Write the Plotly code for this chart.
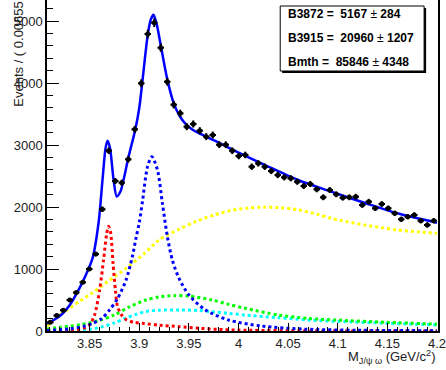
import numpy as np
import plotly.graph_objects as go

# ---------------- data ----------------
x_lo, x_hi = 3.807, 4.201
bin_w = 0.00655
counts = [140, 250, 335, 500, 620, 785, 1000, 1240, 1963, 2908,
          2419, 2392, 2769, 3253, 3995, 4790, 4973, 4570, 4021, 3650,
          3511, 3296, 3339, 3231, 3135, 3161, 3005, 3005, 2908, 2823,
          2839, 2650, 2704, 2650, 2581, 2516, 2479, 2463, 2408, 2339,
          2371, 2285, 2156, 2274, 2205, 2150, 2156, 2166, 2032, 2086,
          1979, 2048, 1979, 1898, 1801, 1844, 1871, 1779, 1710, 1779]
bin_centers = [3.807 + bin_w * (i + 0.5) for i in range(len(counts))]

total_x = [3.807, 3.815, 3.822, 3.830, 3.840, 3.846, 3.853, 3.859, 3.863, 3.866,
           3.868, 3.8705, 3.874, 3.8773, 3.881, 3.885, 3.889, 3.896, 3.900, 3.9033,
           3.9083, 3.9115, 3.9143, 3.9175, 3.9217, 3.9283, 3.935, 3.941, 3.9467, 3.953,
           3.960, 3.980, 3.9933, 4.0267, 4.060, 4.0933, 4.1267, 4.160, 4.200]
total_y = [120, 190, 270, 420, 700, 900, 1180, 1750, 2450, 2950,
           3070, 2950, 2450, 2170, 2250, 2500, 2800, 3250, 3600, 4050,
           4750, 5020, 5100, 4950, 4600, 4050, 3660, 3460, 3340, 3255,
           3190, 3040, 2930, 2677, 2435, 2247, 2069, 1898, 1747]

red_x = [3.807, 3.830, 3.845, 3.850, 3.855, 3.860, 3.864, 3.867, 3.869, 3.871,
         3.8735, 3.876, 3.878, 3.882, 3.887, 3.895, 3.905, 3.920, 3.940, 3.960,
         3.980, 4.000, 4.050, 4.200]
red_y = [0, 10, 50, 100, 260, 660, 1150, 1550, 1690, 1600,
         1100, 650, 400, 260, 180, 140, 120, 95, 70, 45,
         25, 15, 5, 0]

b3915_x = [3.807, 3.830, 3.845, 3.853, 3.862, 3.870, 3.878, 3.8867, 3.893, 3.8967,
           3.900, 3.9033, 3.9083, 3.9127, 3.9183, 3.9233, 3.9283, 3.9333, 3.940, 3.950,
           3.9667, 3.990, 4.0233, 4.0667, 4.120, 4.200]
b3915_y = [10, 35, 80, 124, 200, 339, 520, 823, 1200, 1500,
           1750, 2100, 2650, 2811, 2597, 2059, 1521, 1145, 850, 580,
           339, 177, 80, 30, 12, 5]

yel_x = [3.807, 3.820, 3.840, 3.853, 3.870, 3.8867, 3.905, 3.920, 3.940, 3.9567,
         3.975, 3.993, 4.010, 4.025, 4.040, 4.060, 4.080, 4.0933, 4.110, 4.1267,
         4.145, 4.160, 4.180, 4.200]
yel_y = [80, 258, 480, 620, 820, 1011, 1250, 1470, 1640, 1763,
         1870, 1945, 1985, 1998, 1990, 1955, 1880, 1817, 1760, 1710,
         1665, 1629, 1600, 1575]

grn_x = [3.807, 3.820, 3.840, 3.860, 3.875, 3.890, 3.9067, 3.920, 3.935, 3.950,
         3.9733, 3.990, 4.0067, 4.040, 4.070, 4.100, 4.150, 4.200]
grn_y = [30, 60, 100, 170, 260, 390, 500, 550, 570, 565,
         500, 430, 366, 258, 204, 175, 140, 110]

cyn_x = [3.807, 3.840, 3.855, 3.863, 3.875, 3.8867, 3.897, 3.9067, 3.920, 3.940,
         3.960, 3.9733, 3.990, 4.0067, 4.040, 4.070, 4.100, 4.150, 4.200]
cyn_y = [0, 10, 40, 70, 130, 210, 270, 315, 335, 340,
         330, 312, 285, 258, 215, 177, 155, 125, 100]

box_lines = ["B3872 =  5167 \u00b1 284", "B3915 =  20960 \u00b1 1207", "Bmth =  85846 \u00b1 4348"]

# ---------------- figure ----------------
W, H = 446, 370
ml, mr, mt, mb = 47, 5, 0, 39
pw, ph = W - ml - mr, H - mt - mb

def px_x(p):
    return (p - ml) / pw

def px_y(p):
    return 1 - (p - mt) / ph

fig = go.Figure()

def comp(x, y, color):
    fig.add_trace(go.Scatter(x=x, y=y, mode="lines", line=dict(color=color, width=3, dash="dot", shape="spline", smoothing=0.8),
                             hoverinfo="skip", showlegend=False))

comp(cyn_x, cyn_y, "#00ffff")
comp(grn_x, grn_y, "#00ff00")
comp(yel_x, yel_y, "#ffff00")
comp(red_x, red_y, "#ff0000")
comp(b3915_x, b3915_y, "#0000ff")

fig.add_trace(go.Scatter(x=total_x, y=total_y, mode="lines",
                         line=dict(color="#0000ff", width=2.5, shape="spline", smoothing=0.8),
                         hoverinfo="skip", showlegend=False))

fig.add_trace(go.Scatter(x=bin_centers, y=counts, mode="markers",
                         marker=dict(color="black", size=5),
                         error_y=dict(type="data", array=list(np.sqrt(counts)), color="black", thickness=2, width=0),
                         error_x=dict(type="constant", value=bin_w / 2, color="black", thickness=2, width=0),
                         showlegend=False))

tickfont = dict(family="Liberation Sans, Arial", size=13, color="#222")
fig.update_layout(
    width=W, height=H, margin=dict(l=ml, r=mr, t=mt, b=mb),
    paper_bgcolor="white", plot_bgcolor="white",
    xaxis=dict(range=[x_lo, x_hi], showgrid=False, zeroline=False,
               showline=True, linecolor="black", linewidth=1.5, mirror=False,
               ticks="inside", ticklen=8, tickwidth=1.3, tickcolor="black",
               tickfont=tickfont, ticklabeloverflow="allow",
               tickvals=[3.85, 3.9, 3.95, 4.0, 4.05, 4.1, 4.15, 4.2],
               ticktext=["3.85", "3.9", "3.95", "4", "4.05", "4.1", "4.15", "4.2"],
               minor=dict(ticks="inside", ticklen=4, dtick=0.01, tick0=3.81, tickcolor="black", tickwidth=1)),
    yaxis=dict(range=[0, ph / 0.062], showgrid=False, zeroline=False,
               showline=True, linecolor="black", linewidth=1.5, mirror=True,
               ticks="inside", ticklen=12, tickwidth=1.3, tickcolor="black",
               tick0=0, dtick=1000, tickfont=tickfont,
               minor=dict(ticks="inside", ticklen=6, dtick=200, tickcolor="black", tickwidth=1)),
    font=dict(family="Liberation Sans, Arial"),
)

# y-axis title (right-aligned to the top end, as in ROOT)
fig.add_annotation(xref="paper", yref="paper", x=px_x(18), y=px_y(-8), xanchor="center", yanchor="top",
                   text="Events / ( 0.00655 )", textangle=-90, showarrow=False,
                   font=dict(family="Liberation Sans, Arial", size=13, color="#222"))

# x-axis title
fig.add_annotation(xref="paper", yref="paper", x=px_x(441), y=px_y(357), xanchor="right", yanchor="middle",
                   text="M<sub>J/\u03c8 \u03c9</sub> (GeV/c<sup>2</sup>)", showarrow=False,
                   font=dict(family="Liberation Sans, Arial", size=13, color="#222"))

# stats box with shadow
bx0, bx1, by0, by1 = 282, 427, 6, 71
fig.add_shape(type="rect", xref="paper", yref="paper",
              x0=px_x(bx0 + 2), x1=px_x(bx1 + 2), y0=px_y(by1 + 2), y1=px_y(by0 + 2),
              fillcolor="black", line=dict(width=0))
fig.add_shape(type="rect", xref="paper", yref="paper",
              x0=px_x(bx0), x1=px_x(bx1), y0=px_y(by1), y1=px_y(by0),
              fillcolor="white", line=dict(color="black", width=1))
for k, line in enumerate(box_lines):
    lbl, val = line.split("\u00b1")
    fig.add_annotation(xref="paper", yref="paper", x=px_x(288), y=px_y(14 + 24 * k),
                       xanchor="left", yanchor="middle", showarrow=False,
                       text="<b>" + lbl + "</b>\u00b1<b>" + val + "</b>",
                       font=dict(family="Liberation Sans, Arial", size=12, color="black"))

fig.write_html("out.html")
